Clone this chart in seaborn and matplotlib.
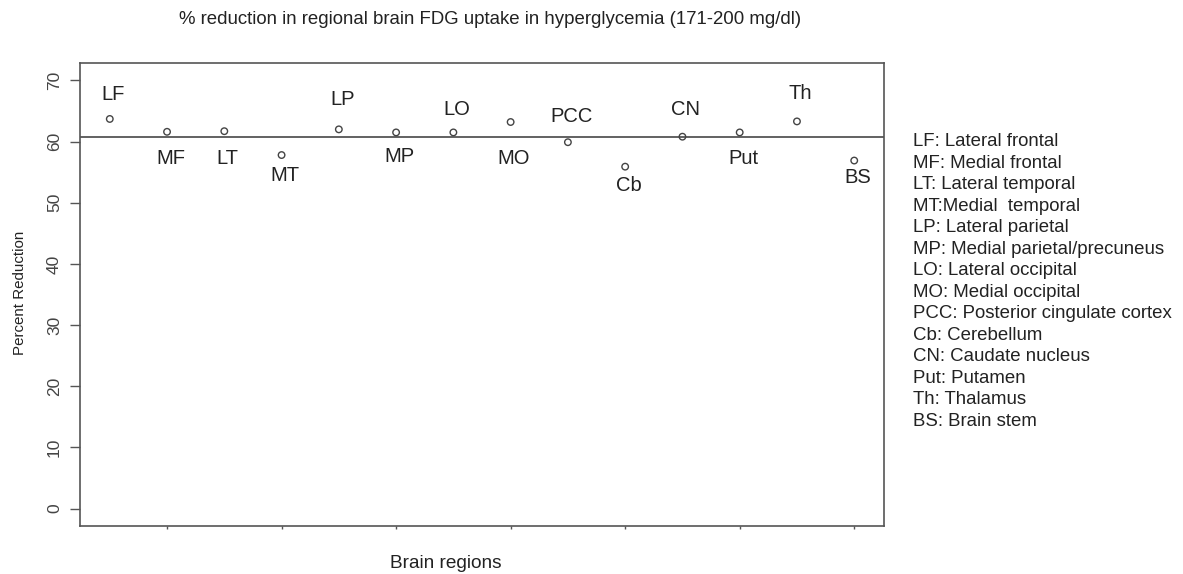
import numpy as np
import pandas as pd
import matplotlib
matplotlib.use("Agg")
import matplotlib.pyplot as plt
import seaborn as sns

# ---- data ----
regions = ['LF', 'MF', 'LT', 'MT', 'LP', 'MP', 'LO', 'MO', 'PCC', 'Cb', 'CN', 'Put', 'Th', 'BS']
reduction = [63.7, 61.6, 61.7, 57.8, 62.0, 61.5, 61.5, 63.2, 59.9, 55.9, 60.8, 61.5, 63.3, 56.9]
label_y = [67.7, 57.2, 57.2, 54.5, 66.9, 57.6, 65.2, 57.2, 64.1, 52.8, 65.2, 57.2, 67.8, 54.1]
legend_lines = [
    'LF: Lateral frontal',
    'MF: Medial frontal',
    'LT: Lateral temporal',
    'MT:Medial  temporal',
    'LP: Lateral parietal',
    'MP: Medial parietal/precuneus',
    'LO: Lateral occipital',
    'MO: Medial occipital',
    'PCC: Posterior cingulate cortex',
    'Cb: Cerebellum',
    'CN: Caudate nucleus',
    'Put: Putamen',
    'Th: Thalamus',
    'BS: Brain stem',
]
y_ticks = [0, 10, 20, 30, 40, 50, 60, 70]
x_ticks = [2, 4, 6, 8, 10, 12, 14]
title = '% reduction in regional brain FDG uptake in hyperglycemia (171-200 mg/dl)'

sns.set_style('white')
plt.rcParams['font.family'] = ['Liberation Sans', 'DejaVu Sans']

W, H = 1183, 574
fig = plt.figure(figsize=(W / 100, H / 100), dpi=100)
ax = fig.add_axes([80 / W, 1 - 525.7 / H, (884 - 80) / W, (525.7 - 63.3) / H])

df = pd.DataFrame({'idx': np.arange(1, len(regions) + 1), 'val': reduction,
                   'region': regions, 'ly': label_y})

axis_col = '#555555'
sns.scatterplot(data=df, x='idx', y='val', ax=ax, marker='o', s=22,
                facecolor='none', edgecolor='#444444', linewidth=1.0, zorder=3)
ax.axhline(np.mean(reduction), color=axis_col, lw=1.3, zorder=2)

for _, r in df.iterrows():
    ax.text(r['idx'] + 0.06, r['ly'], r['region'], ha='center', va='center',
            fontsize=14.5, color='#222222')

ax.set_xlim(1 - 0.52, 14 + 0.52)
ax.set_ylim(-2.8, 72.8)
ax.set_yticks(y_ticks)
ax.set_yticklabels([str(t) for t in y_ticks], rotation=90, va='center',
                   fontsize=12.5, color='#444444')
ax.set_xticks(x_ticks)
ax.set_xticklabels(['' for _ in x_ticks])
ax.tick_params(axis='y', length=7, width=1, color=axis_col, pad=6, left=True)
ax.tick_params(axis='x', length=2, width=1, color=axis_col, bottom=True)
for sp in ax.spines.values():
    sp.set_visible(True)
    sp.set_color(axis_col)
    sp.set_linewidth(1.2)
ax.set_xlabel('')
ax.set_ylabel('')

fig.text(490.5 / W, 1 - 20 / H, title, ha='center', va='center', fontsize=13.4, color='#222222')
fig.text(446 / W, 1 - 563 / H, 'Brain regions', ha='center', va='center', fontsize=13.7, color='#222222')
fig.text(20 / W, 1 - 293 / H, 'Percent Reduction', ha='center', va='center', rotation=90,
         fontsize=10.9, color='#222222')

for i, line in enumerate(legend_lines):
    fig.text(913 / W, 1 - (141.7 + 21.5 * i) / H, line, ha='left', va='center',
             fontsize=13.4, color='#222222')

fig.savefig('out.png', dpi=100)
